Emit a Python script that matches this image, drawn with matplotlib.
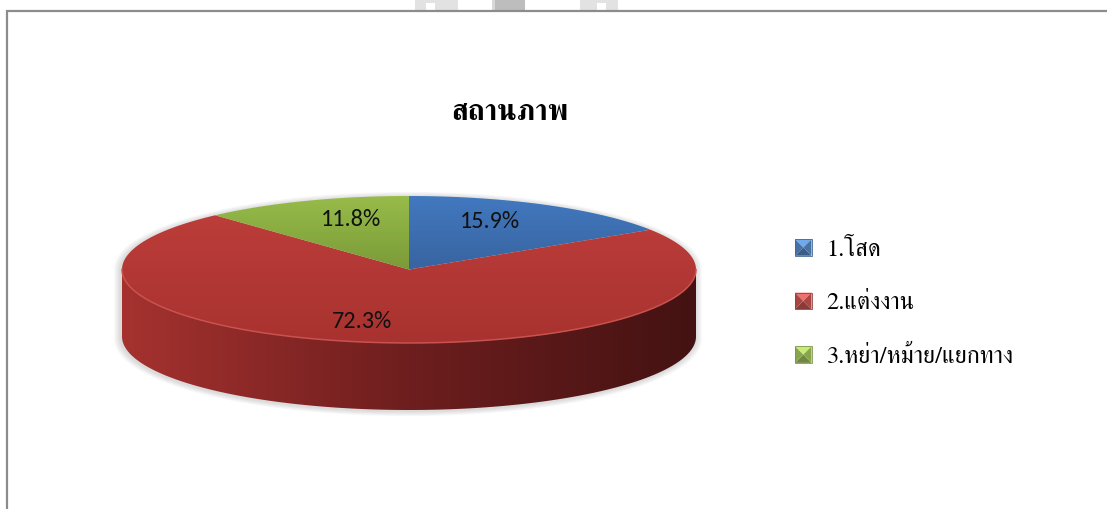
import numpy as np
import matplotlib
matplotlib.use("Agg")
import matplotlib.pyplot as plt
from matplotlib.patches import Polygon, Rectangle
from matplotlib.legend_handler import HandlerBase
from matplotlib.colors import LinearSegmentedColormap, to_rgb
from matplotlib.font_manager import FontProperties

# ---------------- data ----------------
title = "สถานภาพ"
categories = ["1.โสด", "2.แต่งงาน", "3.หย่า/หม้าย/แยกทาง"]
values = [15.9, 72.3, 11.8]
pct_labels = ["15.9%", "72.3%", "11.8%"]

# ---------------- style ----------------
base_colors = ["#4F81BD", "#C0504D", "#9BBB59"]
top_grad = [("#4279C0", "#3864A0"), ("#BC3D3A", "#A8322F"), ("#98BC4A", "#7A9B38")]
side_grad = [("#2F5587", "#1A3050"), ("#A5322F", "#6E1E1E", "#441212"), ("#6F8F35", "#40561C")]

W, H = 1107, 509
fig = plt.figure(figsize=(W / 100, H / 100), dpi=100)
ax = fig.add_axes([0, 0, 1, 1])
ax.set_xlim(0, W)
ax.set_ylim(H, 0)
ax.axis("off")

cx, cy, rx, ry, depth = 409, 269.5, 287, 73.5, 67


def ell(t0, t1, n=200, dy=0.0):
    t = np.radians(np.linspace(t0, t1, n))
    return np.column_stack([cx + rx * np.cos(t), cy + dy - ry * np.sin(t)])


def grad_fill(poly_xy, colors, direction="v", z=2):
    x0, y0 = poly_xy.min(axis=0)
    x1, y1 = poly_xy.max(axis=0)
    cmap = LinearSegmentedColormap.from_list("g", colors)
    g = np.linspace(0, 1, 256)
    arr = g[:, None] if direction == "v" else g[None, :]
    patch = Polygon(poly_xy, closed=True, facecolor="none", edgecolor="none", zorder=z)
    ax.add_patch(patch)
    im = ax.imshow(arr, cmap=cmap, extent=(x0, x1, y1, y0), origin="upper",
                   aspect="auto", interpolation="bilinear", zorder=z)
    im.set_clip_path(patch)


# ---------------- watermark & frame ----------------
wm_kw = dict(facecolor="#E2E2E2", edgecolor="none", zorder=0)
ax.add_patch(Rectangle((415, 0), 43, 10, **wm_kw))
ax.add_patch(Rectangle((426, 3), 9, 7, facecolor="white", edgecolor="none", zorder=0.5))
ax.add_patch(Rectangle((580, 0), 38, 10, **wm_kw))
ax.add_patch(Rectangle((597, 3), 9, 7, facecolor="white", edgecolor="none", zorder=0.5))
ax.add_patch(Rectangle((492, 0), 33, 10, facecolor="#BDBDBD", edgecolor="none", zorder=0))
ax.add_patch(Rectangle((492, 0), 3, 10, facecolor="#D8D8D8", edgecolor="none", zorder=0.5))
ax.plot([7, 7, W + 5], [H + 5, 11, 11], color="#8C8C8C", lw=1.6, solid_joinstyle="miter", zorder=1)

# ---------------- angles ----------------
fr = np.array(values) / np.sum(values)
starts = 90 - 360 * np.concatenate([[0], np.cumsum(fr)[:-1]])
ends = starts - 360 * fr

# ---------------- shadow ----------------
outline = np.vstack([ell(0, 180), ell(180, 360, dy=depth)])
for k in range(6):
    s = 1 + 0.004 * (k + 1)
    sh = np.column_stack([cx - 1 + (outline[:, 0] - cx) * s,
                          cy + depth / 2 + 1 + (outline[:, 1] - cy - depth / 2) * (1 + 0.008 * (k + 1))])
    ax.add_patch(Polygon(sh, closed=True, facecolor="#707070", edgecolor="none",
                         alpha=0.045, zorder=1.5))

# ---------------- sides (front visible part) ----------------
for i in range(len(values)):
    a, b = ends[i], starts[i]
    for k in (-1, 0, 1):
        lo = max(a, -180 + 360 * k)
        hi = min(b, 0 + 360 * k)
        if hi > lo:
            side = np.vstack([ell(lo, hi), ell(hi, lo, dy=depth)])
            grad_fill(side, side_grad[i], direction="h", z=2)

# ---------------- tops ----------------
for i in range(len(values)):
    top = np.vstack([[cx, cy], ell(starts[i], ends[i])])
    grad_fill(top, top_grad[i], direction="v", z=3)

# rim highlight
rim = ell(180, 360)
ax.plot(rim[:, 0], rim[:, 1], color="#C9524E", lw=1.1, zorder=4)

# ---------------- percentage labels ----------------
label_pos = [(490, 222), (362, 322), (351, 220)]
lab_font = dict(family=["Carlito", "Open Sans", "DejaVu Sans"], size=17.5, color="#111111")
for (x, y), t in zip(label_pos, pct_labels):
    ax.text(x, y, t, ha="center", va="center", zorder=5, **lab_font)

# ---------------- title ----------------
ax.text(510, 113, title, ha="center", va="center",
        family=["FreeSerif", "DejaVu Sans"], weight="bold", size=21, color="black", zorder=5)


# ---------------- legend ----------------
class BevelHandler(HandlerBase):
    def create_artists(self, legend, orig_handle, xdescent, ydescent, width, height,
                       fontsize, trans):
        c = np.array(to_rgb(orig_handle.get_facecolor()))
        s = min(width, height)
        x0 = -xdescent + (width - s) / 2
        y0 = -ydescent + (height - s) / 2
        m = (x0 + s / 2, y0 + s / 2)
        light = np.clip(c * 1.15 + 0.08, 0, 1)
        dark = c * 0.72
        mid = c * 0.88
        tl, tr, bl, br = (x0, y0 + s), (x0 + s, y0 + s), (x0, y0), (x0 + s, y0)
        tris = [([tl, tr, m], light), ([bl, br, m], dark), ([tl, bl, m], mid), ([tr, br, m], mid)]
        arts = []
        for pts, col in tris:
            arts.append(Polygon(pts, closed=True, facecolor=col, edgecolor="none", transform=trans))
        arts.append(Rectangle((x0, y0), s, s, facecolor="none", edgecolor=c * 0.8, lw=0.6,
                              transform=trans))
        return arts


handles = [Rectangle((0, 0), 1, 1, facecolor=c) for c in base_colors]
leg_font = FontProperties(family=["FreeSerif", "DejaVu Sans"], size=17.5)
fig.legend(handles, categories, handler_map={Rectangle: BevelHandler()},
           loc="upper left", bbox_to_anchor=(795 / W, 1 - 239 / H),
           frameon=False, prop=leg_font, handlelength=0.68, handleheight=0.68,
           handletextpad=0.62, labelspacing=1.3, borderpad=0, borderaxespad=0)

fig.savefig("out.png", dpi=100)
